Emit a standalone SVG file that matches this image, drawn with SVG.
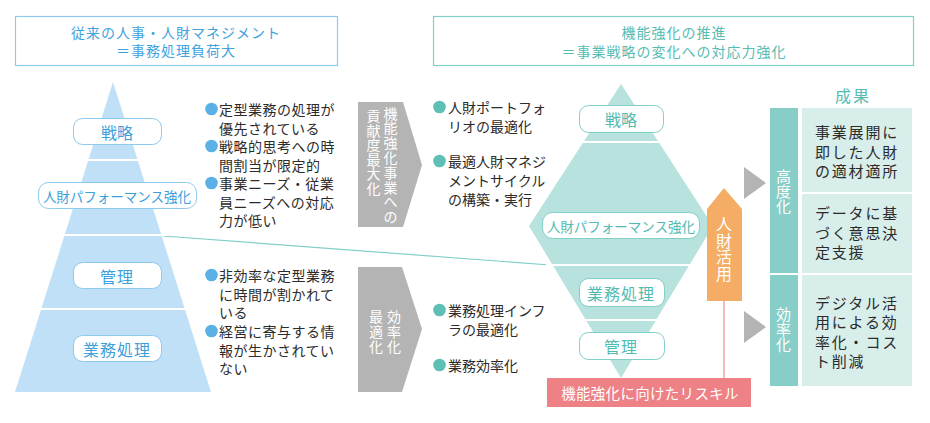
<svg xmlns="http://www.w3.org/2000/svg" width="930" height="423" viewBox="0 0 930 423">
<style>
text{font-family:"Noto Sans CJK JP","Noto Sans CJK SC",sans-serif;dominant-baseline:central}
.tb{fill:#3fa3e0;font-size:14px;letter-spacing:1px;text-anchor:middle}
.tt{fill:#55bdb4;font-size:14px;letter-spacing:1px;text-anchor:middle}
.lb{fill:#fff;stroke:#8ec9ee;stroke-width:1}
.lt{fill:#fff;stroke:#80cfc8;stroke-width:1}
.pb{fill:#3d9fdc;font-size:16px;text-anchor:middle}
.pt{fill:#52bbb1;font-size:16px;text-anchor:middle}
.bul{fill:#2b2b2b;font-size:14px;letter-spacing:0.5px}
.bur{fill:#2b2b2b;font-size:14px}
.vw{fill:#fff;font-size:14px;text-anchor:middle}
.res{fill:#2b2b2b;font-size:15px;letter-spacing:1.8px}
.sep{stroke:#fff;stroke-width:2}
</style>

<g id="title-left">
<rect x="15.5" y="16.5" width="322" height="49" fill="#fff" stroke="#8ec9ee" stroke-width="1.2"/>
<text class="tb" x="176" y="32">従来の人事・人財マネジメント</text>
<text class="tb" x="176" y="50">＝事務処理負荷大</text>
</g>

<g id="title-right">
<rect x="433.5" y="16.5" width="480" height="49" fill="#fff" stroke="#80cfc8" stroke-width="1.2"/>
<text class="tt" x="674" y="32">機能強化の推進</text>
<text class="tt" x="674" y="51">＝事業戦略の変化への対応力強化</text>
</g>

<g id="connectors">
<line x1="163" y1="236" x2="550" y2="265" stroke="#80cfc8" stroke-width="1.2"/>
<line x1="724" y1="288" x2="724" y2="378" stroke="#f5a5a8" stroke-width="1.5"/>
<circle cx="724" cy="288" r="1.8" fill="#f08a8e"/>
</g>

<g id="pyramid-left">
<polygon points="113,82 211,392 15,392" fill="#bfe0f6"/>
<line class="sep" x1="80" y1="160" x2="146" y2="160"/>
<line class="sep" x1="55" y1="235" x2="172" y2="235"/>
<line class="sep" x1="30" y1="309" x2="196" y2="309"/>
</g>

<g id="left-senryaku">
<rect class="lb" x="73.5" y="118.5" width="88" height="26" rx="9"/>
<text class="pb" x="117" y="131.5">戦略</text>
</g>
<g id="left-jinzai">
<rect class="lb" x="38.5" y="182.5" width="158" height="26" rx="10"/>
<text class="pb" x="117" y="195.5" font-size="13.5" style="font-size:13.5px">人財パフォーマンス強化</text>
</g>
<g id="left-kanri">
<rect class="lb" x="73.5" y="262.5" width="88" height="26" rx="9"/>
<text class="pb" x="117" y="275.5" letter-spacing="1">管理</text>
</g>
<g id="left-gyomu">
<rect class="lb" x="73.5" y="335.5" width="88" height="26" rx="9"/>
<text class="pb" x="117" y="348.5" letter-spacing="1">業務処理</text>
</g>

<g id="left-bullets-upper">
<circle cx="211.5" cy="109" r="6.3" fill="#5bb1e6"/>
<circle cx="211.5" cy="146" r="6.3" fill="#5bb1e6"/>
<circle cx="211.5" cy="183" r="6.3" fill="#5bb1e6"/>
<text class="bul" x="219" y="109">定型業務の処理が</text>
<text class="bul" x="219" y="127.5">優先されている</text>
<text class="bul" x="219" y="146">戦略的思考への時</text>
<text class="bul" x="219" y="164.5">間割当が限定的</text>
<text class="bul" x="219" y="183">事業ニーズ・従業</text>
<text class="bul" x="219" y="201.5">員ニーズへの対応</text>
<text class="bul" x="219" y="220">力が低い</text>
</g>

<g id="left-bullets-lower">
<circle cx="211.5" cy="275" r="6.3" fill="#5bb1e6"/>
<circle cx="211.5" cy="331" r="6.3" fill="#5bb1e6"/>
<text class="bul" x="219" y="275">非効率な定型業務</text>
<text class="bul" x="219" y="293.5">に時間が割かれて</text>
<text class="bul" x="219" y="312">いる</text>
<text class="bul" x="219" y="331">経営に寄与する情</text>
<text class="bul" x="219" y="349.5">報が生かされてい</text>
<text class="bul" x="219" y="368">ない</text>
</g>

<g id="arrow-upper">
<polygon points="358,102 403,102 422,165 403,227 358,227" fill="#b4b4b4"/>
<text class="vw"><tspan x="390.5" y="112.5">機</tspan><tspan x="390.5" y="127.3">能</tspan><tspan x="390.5" y="142.1">強</tspan><tspan x="390.5" y="156.9">化</tspan><tspan x="390.5" y="171.7">事</tspan><tspan x="390.5" y="186.5">業</tspan><tspan x="390.5" y="201.3">へ</tspan><tspan x="390.5" y="216.1">の</tspan></text>
<text class="vw"><tspan x="373.5" y="115">貢</tspan><tspan x="373.5" y="129.5">献</tspan><tspan x="373.5" y="144">度</tspan><tspan x="373.5" y="158.5">最</tspan><tspan x="373.5" y="173">大</tspan><tspan x="373.5" y="187.5">化</tspan></text>
</g>

<g id="arrow-lower">
<polygon points="358,267 402,267 422,329 402,392 358,392" fill="#b4b4b4"/>
<text class="vw"><tspan x="394" y="315.5">効</tspan><tspan x="394" y="330.5">率</tspan><tspan x="394" y="345.5">化</tspan></text>
<text class="vw"><tspan x="376" y="315.5">最</tspan><tspan x="376" y="330.5">適</tspan><tspan x="376" y="345.5">化</tspan></text>
</g>

<g id="mid-bullets">
<circle cx="439.5" cy="107" r="6.3" fill="#5dbfb6"/>
<circle cx="439.5" cy="161" r="6.3" fill="#5dbfb6"/>
<circle cx="439.5" cy="310" r="6.3" fill="#5dbfb6"/>
<circle cx="439.5" cy="365" r="6.3" fill="#5dbfb6"/>
<text class="bur" x="448" y="107">人財ポートフォ</text>
<text class="bur" x="448" y="126">リオの最適化</text>
<text class="bur" x="448" y="161">最適人財マネジ</text>
<text class="bur" x="448" y="180">メントサイクル</text>
<text class="bur" x="448" y="199">の構築・実行</text>
<text class="bur" x="448" y="310">業務処理インフ</text>
<text class="bur" x="448" y="329">ラの最適化</text>
<text class="bur" x="448" y="365">業務効率化</text>
</g>

<g id="diamond">
<polygon points="621,84 713,226 621,378 529,226" fill="#b8e2de"/>
<line class="sep" x1="580" y1="142" x2="662" y2="142"/>
<line class="sep" x1="546" y1="265" x2="696" y2="265"/>
<line class="sep" x1="580" y1="320" x2="662" y2="320"/>
</g>

<g id="right-senryaku">
<rect class="lt" x="579.5" y="105.5" width="84" height="27" rx="9"/>
<text class="pt" x="621" y="119">戦略</text>
</g>
<g id="right-jinzai">
<rect class="lt" x="542.5" y="212.5" width="157" height="26" rx="10"/>
<text class="pt" x="621" y="225.5" style="font-size:13.5px">人財パフォーマンス強化</text>
</g>
<g id="right-gyomu">
<rect class="lt" x="579.5" y="278.5" width="85" height="28" rx="9"/>
<text class="pt" x="621" y="292.5" letter-spacing="1">業務処理</text>
</g>
<g id="right-kanri">
<rect class="lt" x="579.5" y="332.5" width="85" height="27" rx="9"/>
<text class="pt" x="621" y="346" letter-spacing="1">管理</text>
</g>

<g id="reskill">
<rect x="547" y="378" width="204" height="29" fill="#ee8185"/>
<text x="650" y="392.5" fill="#fff" font-size="14.5" text-anchor="middle" style="font-size:14.5px;letter-spacing:0.3px">機能強化に向けたリスキル</text>
</g>

<g id="jinzai-katsuyo">
<polygon points="724,188 742,209 742,301 707,301 707,209" fill="#f5ad65"/>
<text x="724" fill="#fff" text-anchor="middle" style="font-size:16px"><tspan x="724" y="223">人</tspan><tspan x="724" y="239.5">財</tspan><tspan x="724" y="256">活</tspan><tspan x="724" y="272.5">用</tspan></text>
</g>

<g id="tri-upper"><polygon points="744,167 766,183 744,199" fill="#b4b4b4"/></g>
<g id="tri-lower"><polygon points="744,311 766,327 744,343" fill="#b4b4b4"/></g>

<g id="results">
<text x="853" y="95" fill="#55bdb4" text-anchor="middle" style="font-size:16px;letter-spacing:2px">成果</text>
<rect x="770" y="108" width="28" height="278" fill="#86cec7"/>
<line x1="770" y1="274" x2="798" y2="274" stroke="#fff" stroke-width="2"/>
<text class="vw" style="font-size:15px"><tspan x="783.5" y="174.5">高</tspan><tspan x="783.5" y="189.5">度</tspan><tspan x="783.5" y="204.5">化</tspan></text>
<text class="vw" style="font-size:15px"><tspan x="783.5" y="312.5">効</tspan><tspan x="783.5" y="327.5">率</tspan><tspan x="783.5" y="342.5">化</tspan></text>
</g>
<g id="result-1">
<rect x="802" y="108" width="110" height="84" fill="#d7eeeb"/>
<text class="res" x="815" y="131.5">事業展開に</text>
<text class="res" x="815" y="151">即した人財</text>
<text class="res" x="815" y="170.5">の適材適所</text>
</g>
<g id="result-2">
<rect x="802" y="194" width="110" height="79" fill="#d7eeeb"/>
<text class="res" x="815" y="212.5">データに基</text>
<text class="res" x="815" y="232">づく意思決</text>
<text class="res" x="815" y="251.5">定支援</text>
</g>
<g id="result-3">
<rect x="802" y="275" width="110" height="111" fill="#d7eeeb"/>
<text class="res" x="815" y="302">デジタル活</text>
<text class="res" x="815" y="321.5">用による効</text>
<text class="res" x="815" y="341">率化・コス</text>
<text class="res" x="815" y="360.5">ト削減</text>
</g>
</svg>
